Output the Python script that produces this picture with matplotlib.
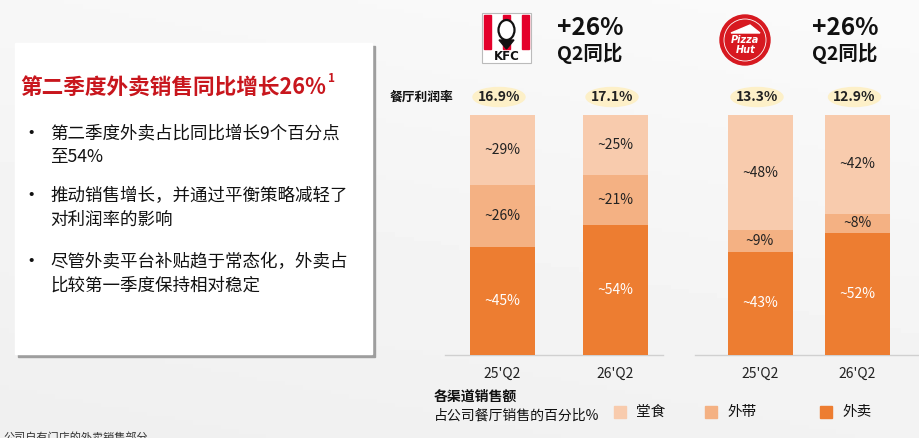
import matplotlib.pyplot as plt
import numpy as np
from matplotlib.patches import Rectangle, Ellipse, Circle, Polygon

plt.rcParams['font.family'] = ['Noto Sans CJK SC', 'DejaVu Sans']

# data
periods = ["25'Q2", "26'Q2", "25'Q2", "26'Q2"]
dine_in = [29, 25, 48, 42]      # 堂食
takeaway = [26, 21, 9, 8]       # 外带
delivery = [45, 54, 43, 52]     # 外卖
margins = ['16.9%', '17.1%', '13.3%', '12.9%']
growth = ['+26%', '+26%']
growth_sub = ['Q2同比', 'Q2同比']
channels = ['堂食', '外带', '外卖']

title = '第二季度外卖销售同比增长26%'
bullets = [['第二季度外卖占比同比增长9个百分点', '至54%'],
           ['推动销售增长，并通过平衡策略减轻了', '对利润率的影响'],
           ['尽管外卖平台补贴趋于常态化，外卖占', '比较第一季度保持相对稳定']]

c_light, c_mid, c_dark = '#F8CBAD', '#F4B183', '#ED7D31'
red = '#C8161D'

W, H = 919, 438
fig = plt.figure(figsize=(W / 100, H / 100), dpi=100)

# background layer in pixel coords
bg = fig.add_axes([0, 0, 1, 1])
bg.set_xlim(0, W)
bg.set_ylim(H, 0)
bg.axis('off')
yy, xx = np.mgrid[0:1:100j, 0:1:100j]
shade = 0.968 - 0.03 * yy + 0.012 * xx
bg.imshow(shade, cmap='gray', vmin=0, vmax=1, extent=(0, W, H, 0), aspect='auto', zorder=0)

# left text box with shadow
bg.add_patch(Rectangle((18, 46), 357, 311, color='#9E9E9E', zorder=1))
bg.add_patch(Rectangle((15, 43), 357, 311, color='white', zorder=2))
bg.text(20, 88, title, color=red, fontsize=15.6, fontweight='bold', va='center', zorder=3)
bg.text(328, 79, '1', color=red, fontsize=8.5, fontweight='bold', va='center', zorder=3)
ys = [133, 196, 262]
for y0, lines in zip(ys, bullets):
    bg.text(21, y0, '•', fontsize=14, va='center', color='#111', zorder=3)
    for k, line in enumerate(lines):
        bg.text(50, y0 + k * 24, line, fontsize=12.6, va='center', color='#111', zorder=3)

# footnote (cut at the bottom edge, as on the slide)
bg.text(3, 432, '公司自有门店的外卖销售部分', fontsize=8, va='top', color='#333', zorder=3)

# KFC logo
bg.add_patch(Rectangle((482, 13), 49, 50, facecolor='white', edgecolor='#BBBBBB', lw=0.8, zorder=3))
for sx in (484, 502.5, 522):
    bg.add_patch(Rectangle((sx, 15), 7, 34, color='#E4002B', zorder=4))
bg.add_patch(Ellipse((506.5, 30), 16, 20, facecolor='white', edgecolor='#111', lw=1.6, zorder=5))
bg.add_patch(Polygon([[499, 40], [514, 40], [506.5, 49]], color='#111', zorder=5))
bg.text(506.5, 56, 'KFC', fontsize=8.5, fontweight='bold', ha='center', va='center',
        family='DejaVu Sans', color='#111', zorder=5)

# Pizza Hut logo
bg.add_patch(Circle((745, 40), 25, color='#D71920', zorder=3))
bg.add_patch(Circle((745, 40), 21, fill=False, edgecolor='white', lw=0.6, zorder=4))
bg.add_patch(Polygon([[731, 33], [750, 25], [760, 33]], color='white', zorder=4))
bg.text(745, 40, 'Pizza', fontsize=7, fontweight='bold', style='italic', color='white',
        ha='center', va='center', family='DejaVu Sans', zorder=5)
bg.text(746, 50, 'Hut', fontsize=7, fontweight='bold', style='italic', color='white',
        ha='center', va='center', family='DejaVu Sans', zorder=5)

for gx, g, s in zip([557, 812], growth, growth_sub):
    bg.text(gx, 28, g, fontsize=17.5, fontweight='bold', va='center', color='#111', zorder=3)
    bg.text(gx, 53, s, fontsize=14, fontweight='bold', va='center', color='#111', zorder=3)

# bars
x_pos = [502, 615, 760, 857.5]
ax = fig.add_axes([380 / W, (H - 355) / H, (W - 380) / W, 240 / H])
ax.set_xlim(380, W)
ax.set_ylim(0, 100)
ax.axis('off')
ax.patch.set_alpha(0)

d = np.array(dine_in, float)
t = np.array(takeaway, float)
v = np.array(delivery, float)
tot = d + t + v
dn, tn, vn = d / tot * 100, t / tot * 100, v / tot * 100
bw = 65
ax.bar(x_pos, vn, bw, color=c_dark)
ax.bar(x_pos, tn, bw, bottom=vn, color=c_mid)
ax.bar(x_pos, dn, bw, bottom=vn + tn, color=c_light)
for i, x in enumerate(x_pos):
    ax.text(x, vn[i] / 2, '~%d%%' % delivery[i], ha='center', va='center', fontsize=10, color='white')
    ax.text(x, vn[i] + tn[i] / 2, '~%d%%' % takeaway[i], ha='center', va='center', fontsize=10, color='#222')
    ax.text(x, vn[i] + tn[i] + dn[i] / 2, '~%d%%' % dine_in[i], ha='center', va='center', fontsize=10, color='#222')

# baselines and period labels
bg.plot([445, 663], [355, 355], color='#D0D0D0', lw=1, zorder=3)
bg.plot([695, 919], [355, 355], color='#D0D0D0', lw=1, zorder=3)
for x, p in zip(x_pos, periods):
    bg.text(x, 374, p, ha='center', va='center', fontsize=10, color='#222', zorder=3)

# margin row
bg.text(390, 97, '餐厅利润率', fontsize=9.2, fontweight='bold', va='center', color='#111', zorder=3)
for x, m in zip(x_pos, margins):
    bg.add_patch(Ellipse((x - 3, 97), 52, 19, color='#FDF0C8', zorder=3))
    bg.text(x - 3, 97, m, ha='center', va='center', fontsize=10, fontweight='bold', color='#222', zorder=4)

# legend area
bg.text(434, 397, '各渠道销售额', fontsize=10, fontweight='bold', va='center', color='#111', zorder=3)
bg.text(434, 416, '占公司餐厅销售的百分比%', fontsize=10, va='center', color='#111', zorder=3)
for lx, c, name in zip([614, 705, 820], [c_light, c_mid, c_dark], channels):
    bg.add_patch(Rectangle((lx, 406), 12, 12, color=c, zorder=3))
    bg.text(lx + 22, 412, name, fontsize=10.5, va='center', color='#111', zorder=3)

fig.savefig('out.png', dpi=100)
